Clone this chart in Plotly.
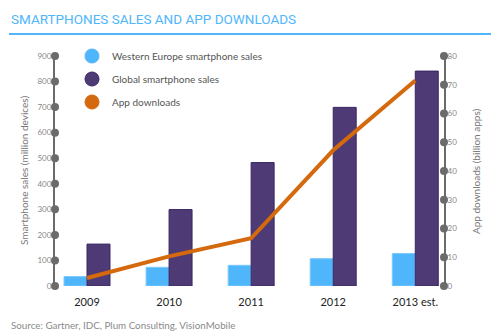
import plotly.graph_objects as go

years = ["2009", "2010", "2011", "2012", "2013 est."]
we_sales = [37, 73, 81, 107, 127]
global_sales = [164, 299, 483, 699, 841]
app_downloads = [2.8, 10.3, 16.6, 47.2, 71.5]
left_ticks = [0, 100, 200, 300, 400, 500, 600, 700, 800, 900]
right_ticks = [0, 10, 20, 30, 40, 50, 60, 70, 80]

xpos = list(range(len(years)))
XR = [-0.39, 4.35]
LB = "#4fb6fb"
PU = "#4e3a74"
OR = "#d4690d"
AX = "#6b6b6b"

W, H = 500, 336
ML, MR, MT, MB = 55, 56, 56, 50
pw, ph = W - ML - MR, H - MT - MB
def px(xp): return (xp - ML) / pw
def py(yp): return (H - MB - yp) / ph

fig = go.Figure()
fig.add_bar(x=xpos, y=we_sales, marker=dict(color=LB, line=dict(color="#7cc8fb", width=1)),
            showlegend=False, name="Western Europe smartphone sales")
fig.add_bar(x=xpos, y=global_sales, marker=dict(color=PU, line=dict(color="#3a2763", width=1)),
            showlegend=False, name="Global smartphone sales")
fig.add_scatter(x=xpos, y=app_downloads, yaxis="y2", mode="lines",
                line=dict(color=OR, width=4), showlegend=False, name="App downloads")

# axis tick dots
fig.add_scatter(x=[XR[0]] * len(left_ticks), y=left_ticks, mode="markers",
                marker=dict(color=AX, size=8), cliponaxis=False, showlegend=False, hoverinfo="skip")
fig.add_scatter(x=[XR[1]] * len(right_ticks), y=right_ticks, yaxis="y2", mode="markers",
                marker=dict(color=AX, size=8), cliponaxis=False, showlegend=False, hoverinfo="skip")

# legend entries
for i, (nm, c) in enumerate([("Western Europe smartphone sales", LB), ("Global smartphone sales", PU), ("App downloads", OR)]):
    fig.add_scatter(x=[None], y=[None], mode="markers", name=nm, legendgroup=f"g{i}",
                    marker=dict(color=c, size=14, line=dict(color="#3a2763" if c == PU else c, width=1)))

fig.update_layout(
    width=W, height=H,
    margin=dict(l=ML, r=MR, t=MT, b=MB),
    paper_bgcolor="white", plot_bgcolor="white",
    barmode="group", bargap=0.44, bargroupgap=0,
    font=dict(family="Lato, Open Sans, sans-serif", color="#666"),
    xaxis=dict(range=XR, tickvals=xpos, ticktext=years, showgrid=False, zeroline=False,
               tickfont=dict(size=11, color="#222"), ticks="", showline=False, ticklabelstandoff=8),
    yaxis=dict(range=[0, 900], tickvals=left_ticks, showgrid=False, zeroline=False,
               showline=True, linecolor=AX, linewidth=2, ticks="",
               tickfont=dict(size=8, color="#888"), ticklabelstandoff=0),
    yaxis2=dict(range=[0, 80], tickvals=right_ticks, overlaying="y", side="right", showgrid=False,
                zeroline=False, showline=True, linecolor=AX, linewidth=2, ticks="",
                tickfont=dict(size=8, color="#888"), ticklabelstandoff=0),
    legend=dict(x=px(72), y=py(41.5), xanchor="left", yanchor="top", bgcolor="rgba(0,0,0,0)",
                font=dict(size=10, color="#555"), tracegroupgap=4, itemsizing="trace"),
    annotations=[
        dict(text="SMARTPHONES SALES AND APP DOWNLOADS", x=px(9), y=py(19.5), xref="paper", yref="paper",
             showarrow=False, xanchor="left", yanchor="middle",
             font=dict(family="Roboto, sans-serif", size=13.5, color=LB)),
        dict(text="Source: Gartner, IDC, Plum Consulting, VisionMobile", x=px(9), y=py(325),
             xref="paper", yref="paper", showarrow=False,
             xanchor="left", yanchor="middle", font=dict(size=9.8, color="#8a8a8a")),
        dict(text="Smartphone sales (million devices)", x=px(24), y=py(171), xref="paper", yref="paper",
             showarrow=False, textangle=-90, xanchor="center", yanchor="middle",
             font=dict(size=10, color="#777")),
        dict(text="App downloads (billion apps)", x=px(476), y=py(171), xref="paper", yref="paper",
             showarrow=False, textangle=-90, xanchor="center", yanchor="middle",
             font=dict(size=10, color="#777")),
    ],
    shapes=[dict(type="line", xref="paper", yref="paper", x0=px(9), x1=px(491), y0=py(34), y1=py(34),
                 line=dict(color=LB, width=2))],
)

fig.write_html("out.html")
